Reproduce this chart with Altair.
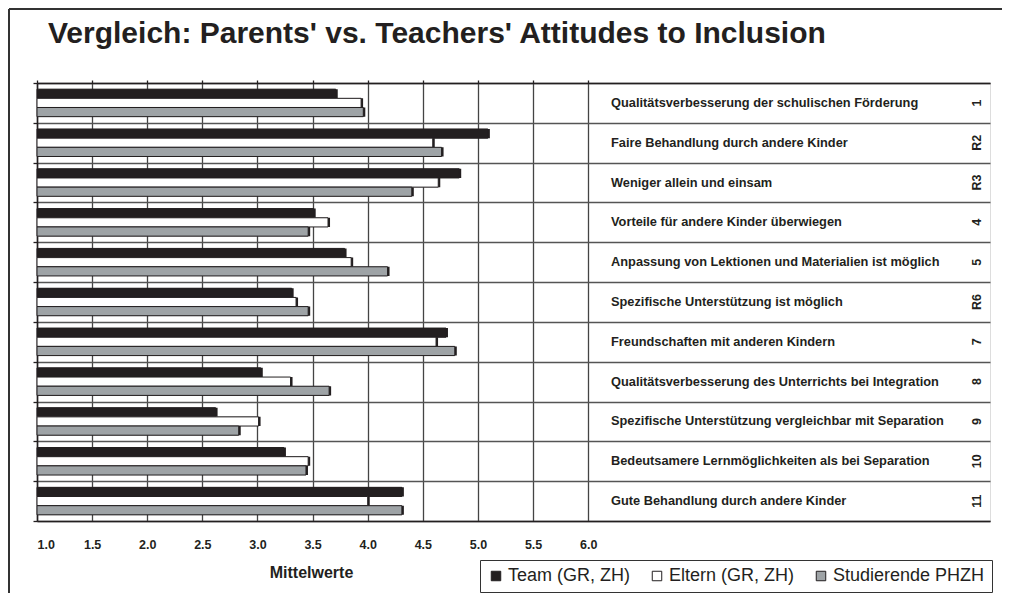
import altair as alt
import pandas as pd

items = [
    "Qualitätsverbesserung der schulischen Förderung",
    "Faire Behandlung durch andere Kinder",
    "Weniger allein und einsam",
    "Vorteile für andere Kinder überwiegen",
    "Anpassung von Lektionen und Materialien ist möglich",
    "Spezifische Unterstützung ist möglich",
    "Freundschaften mit anderen Kindern",
    "Qualitätsverbesserung des Unterrichts bei Integration",
    "Spezifische Unterstützung vergleichbar mit Separation",
    "Bedeutsamere Lernmöglichkeiten als bei Separation",
    "Gute Behandlung durch andere Kinder",
]
codes = ["1", "R2", "R3", "4", "5", "R6", "7", "8", "9", "10", "11"]
series = ["Team (GR, ZH)", "Eltern (GR, ZH)", "Studierende PHZH"]
team = [3.71, 5.09, 4.83, 3.51, 3.79, 3.31, 4.71, 3.03, 2.62, 3.24, 4.31]
eltern = [3.94, 4.59, 4.64, 3.64, 3.85, 3.35, 4.62, 3.30, 3.01, 3.46, 4.00]
stud = [3.96, 4.67, 4.40, 3.46, 4.18, 3.46, 4.79, 3.65, 2.83, 3.44, 4.31]
tick_values = [1.0, 1.5, 2.0, 2.5, 3.0, 3.5, 4.0, 4.5, 5.0, 5.5, 6.0]
colors = ["#231f20", "#ffffff", "#9ea3a6"]

rows = []
for s, vals in zip(series, [team, eltern, stud]):
    for it, v in zip(items, vals):
        rows.append({"item": it, "series": s, "value": v})
df = pd.DataFrame(rows)
lab = pd.DataFrame({"item": items, "code": codes})

FONT = "Liberation Sans"
INK = "#231f20"

yaxis = alt.Axis(labels=False, title=None, tickBand="extent", tickSize=4,
                 tickColor=INK, tickWidth=1.3, grid=True, gridColor="#555555",
                 gridWidth=1.3, domain=True, domainColor=INK, domainWidth=1.5)
yenc = alt.Y("item:N", sort=items, scale=alt.Scale(paddingInner=0, paddingOuter=0), axis=yaxis)
yoff = alt.YOffset("series:N", sort=series, scale=alt.Scale(paddingInner=0, paddingOuter=0.67))
xscale = alt.Scale(domain=[1, 9.645], nice=False, zero=False)

shadow = alt.Chart(df).mark_bar(color=INK, xOffset=2, x2Offset=2, yOffset=2, y2Offset=2).encode(
    x=alt.X("value:Q", scale=xscale,
            axis=alt.Axis(orient="bottom", values=tick_values, format=".1f",
                          labelFont=FONT, labelFontWeight="bold", labelFontSize=12.5,
                          labelColor=INK, labelPadding=17, ticks=False,
                          domain=True, domainColor=INK, domainWidth=1.5,
                          grid=True, gridColor="#444444", gridWidth=1.3,
                          title="Mittelwerte", titleFont=FONT, titleFontSize=16,
                          titleFontWeight="bold", titleColor=INK, titleX=274, titleY=56,
                          titleBaseline="alphabetic", titleAnchor="start", titleAlign="center")),
    x2=alt.datum(1),
    y=yenc,
    yOffset=yoff,
)

bars = alt.Chart(df).mark_bar(stroke=INK, strokeWidth=1).encode(
    x=alt.X("value:Q", scale=xscale,
            axis=alt.Axis(orient="top", values=tick_values, labels=False, ticks=True,
                          tickSize=3, tickColor=INK, tickWidth=1.3, domain=True,
                          domainColor=INK, domainWidth=1.5, grid=False, title=None)),
    x2=alt.datum(1),
    y=yenc,
    yOffset=yoff,
    color=alt.Color("series:N", sort=series,
                    scale=alt.Scale(domain=series, range=colors),
                    legend=alt.Legend(title=None, orient="none", direction="horizontal",
                                      legendX=443, legendY=477, symbolType="square",
                                      symbolSize=90, symbolStrokeColor=INK,
                                      symbolStrokeWidth=1, labelFont=FONT,
                                      labelFontSize=18, labelColor=INK, labelOffset=3,
                                      columnPadding=17, padding=7, strokeColor="#333333",
                                      fillColor="#ffffff")),
)

labels = alt.Chart(lab).mark_text(align="left", baseline="middle", font=FONT,
                                  fontWeight="bold", fontSize=12.8, color=INK).encode(
    y=yenc, x=alt.value(574), text="item:N")

code_text = alt.Chart(lab).mark_text(align="center", baseline="middle", font=FONT,
                                     fontWeight="bold", fontSize=12.5, color=INK,
                                     angle=270).encode(
    y=yenc, x=alt.value(940), text="code:N")

frame_v = alt.Chart(lab).mark_rule(color="#333333", strokeWidth=1.5).encode(
    x=alt.value(-28), y=alt.value(-74), y2=alt.value(520))
frame_h = alt.Chart(lab).mark_rule(color="#333333", strokeWidth=1.5).encode(
    x=alt.value(-28), x2=alt.value(980), y=alt.value(-74))

chart = alt.layer(shadow, bars, labels, code_text, frame_v, frame_h).resolve_axis(
    x="independent"
).properties(
    width=953,
    height=438,
    autosize=alt.AutoSizeParams(type="none"),
    padding={"left": 29, "top": 75, "right": 12, "bottom": 72},
    title=alt.Title("Vergleich: Parents' vs. Teachers' Attitudes to Inclusion",
                    anchor="start", frame="group", dx=11, offset=0, dy=65,
                    font=FONT, fontSize=30, fontWeight="bold", color=INK,
                    baseline="alphabetic"),
).configure_view(stroke=None).configure(background="white")

chart.save("out.html", embed_options={"renderer": "svg", "actions": False})
